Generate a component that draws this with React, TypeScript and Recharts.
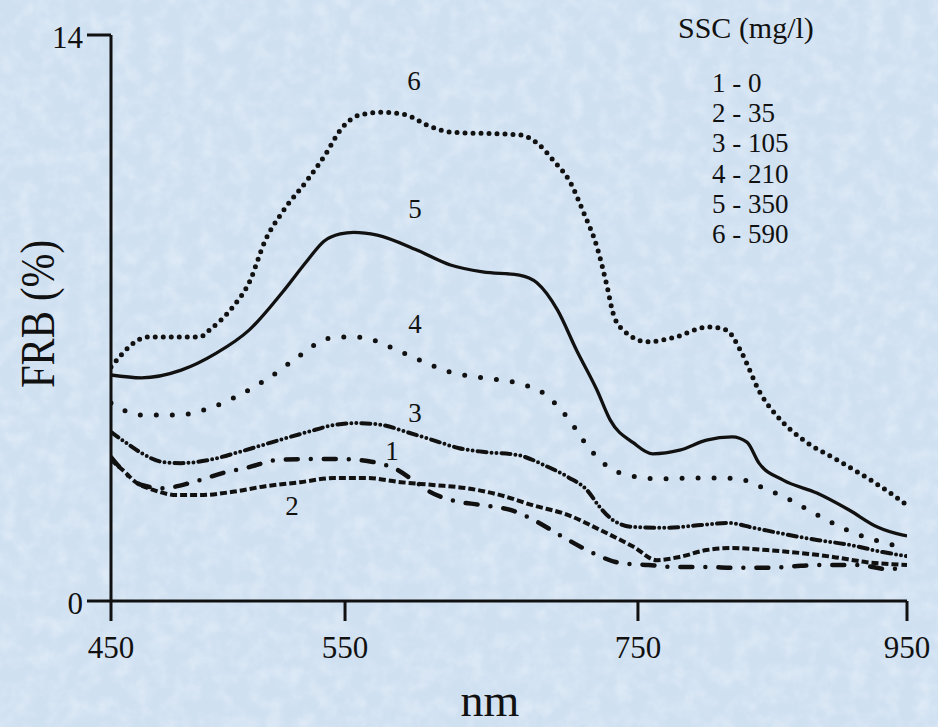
import React from 'react';
import { LineChart, Line, XAxis, YAxis } from 'recharts';

// wavelength (nm) / FRB (%) pairs, one list per SSC curve
const curve1 = [
  [450, 3.56], [456, 3.17], [463, 2.87], [472, 2.79], [485, 2.94], [498, 3.17], [509, 3.31],
  [521, 3.49], [535, 3.51], [549, 3.51], [569, 3.44], [585, 3.26], [599, 2.92], [608, 2.7],
  [622, 2.5], [644, 2.37], [665, 2.23], [680, 1.98], [699, 1.58], [718, 1.21], [738, 0.94],
  [758, 0.89], [778, 0.84], [801, 0.84], [823, 0.82], [847, 0.82], [871, 0.87], [890, 0.89],
  [913, 0.89], [936, 0.79], [950, 0.84],
];
const curve2 = [
  [450, 3.49], [455, 3.24], [461, 2.92], [468, 2.75], [478, 2.62], [488, 2.62], [502, 2.7],
  [516, 2.84], [531, 2.94], [545, 3.04], [565, 3.04], [588, 2.94], [610, 2.87], [633, 2.79],
  [656, 2.62], [678, 2.37], [702, 2.13], [724, 1.76], [747, 1.34], [764, 1.01], [781, 1.09],
  [801, 1.26], [820, 1.31], [846, 1.26], [870, 1.19], [895, 1.09], [920, 0.96], [950, 0.89],
];
const curve3 = [
  [450, 4.18], [456, 3.93], [463, 3.66], [472, 3.44], [480, 3.41], [492, 3.49], [505, 3.69],
  [519, 3.93], [534, 4.18], [545, 4.35], [558, 4.4], [576, 4.35], [592, 4.18], [610, 3.98],
  [628, 3.78], [644, 3.69], [668, 3.61], [686, 3.36], [702, 3.07], [715, 2.75], [724, 2.32],
  [733, 2.0], [747, 1.83], [772, 1.81], [797, 1.88], [817, 1.93], [836, 1.81], [858, 1.66],
  [883, 1.51], [907, 1.39], [932, 1.21], [950, 1.11],
];
const curve4 = [
  [450, 4.9], [463, 4.6], [478, 4.6], [492, 4.77], [505, 5.1], [518, 5.54], [530, 6.04],
  [541, 6.46], [548, 6.53], [558, 6.53], [569, 6.46], [581, 6.28], [601, 5.96], [622, 5.66],
  [644, 5.52], [668, 5.39], [687, 5.1], [702, 4.53], [716, 3.81], [724, 3.49], [733, 3.24],
  [743, 3.12], [755, 3.04], [768, 3.02], [792, 3.04], [816, 3.04], [829, 2.99], [840, 2.84],
  [863, 2.5], [885, 2.1], [907, 1.73], [931, 1.46], [950, 1.31],
];
const curve5 = [
  [450, 5.59], [463, 5.52], [480, 5.71], [495, 6.13], [509, 6.7], [523, 7.62], [534, 8.43],
  [541, 8.9], [548, 9.08], [556, 9.12], [572, 9.05], [599, 8.68], [622, 8.31], [644, 8.14],
  [669, 8.06], [681, 7.87], [695, 7.2], [708, 6.21], [722, 5.22], [731, 4.48], [747, 3.91],
  [761, 3.64], [781, 3.73], [801, 3.98], [820, 4.06], [831, 3.93], [840, 3.41], [858, 2.99],
  [883, 2.67], [907, 2.25], [928, 1.83], [947, 1.63], [950, 1.61],
];
const curve6 = [
  [450, 5.79], [466, 6.53], [488, 6.53], [492, 6.7], [502, 7.27], [509, 7.87], [516, 8.93],
  [523, 9.6], [534, 10.42], [542, 11.08], [548, 11.65], [560, 12.02], [576, 12.09], [592, 12.02],
  [606, 11.77], [622, 11.6], [669, 11.53], [681, 11.33], [692, 10.91], [704, 10.34], [713, 9.6],
  [722, 8.76], [729, 7.77], [733, 7.12], [740, 6.7], [757, 6.41], [776, 6.51], [803, 6.78],
  [816, 6.7], [826, 6.21], [841, 5.14], [856, 4.48], [873, 3.98], [898, 3.49], [923, 2.99],
  [948, 2.42], [950, 2.37],
];

const xTicks = [450, 550, 750, 950];
const yTicks = [0, 14];
const legendTitle = 'SSC (mg/l)';
const legendItems = ['1 - 0', '2 - 35', '3 - 105', '4 - 210', '5 - 350', '6 - 590'];

// the printed wavelength axis is not evenly spaced: share of the axis length at each tick
const xTickShare = [0, 0.294, 0.662, 1];

function warpedScale(dom: number[] = [450, 950], rng: number[] = [0, 1]): any {
  const s: any = (v: number) => {
    let i = 0;
    while (i < xTicks.length - 2 && v > xTicks[i + 1]) i++;
    const t = (v - xTicks[i]) / (xTicks[i + 1] - xTicks[i]);
    const share = xTickShare[i] + t * (xTickShare[i + 1] - xTickShare[i]);
    return rng[0] + share * (rng[1] - rng[0]);
  };
  s.domain = (d?: number[]) => {
    if (d === undefined) return dom;
    dom = d;
    return s;
  };
  s.range = (r?: number[]) => {
    if (r === undefined) return rng;
    rng = r;
    return s;
  };
  s.copy = () => warpedScale(dom.slice(), rng.slice());
  s.ticks = () => xTicks;
  s.invert = (px: number) => {
    const share = (px - rng[0]) / (rng[1] - rng[0]);
    let i = 0;
    while (i < xTickShare.length - 2 && share > xTickShare[i + 1]) i++;
    const t = (share - xTickShare[i]) / (xTickShare[i + 1] - xTickShare[i]);
    return xTicks[i] + t * (xTicks[i + 1] - xTicks[i]);
  };
  return s;
}

const toRows = (pts: number[][]) => pts.map(([nm, v]) => ({ nm, v }));

const serif = '"Liberation Serif", "Times New Roman", serif';
const ink = '#111';

const series = [
  { id: 'c1', pts: curve1, width: 4.5, dash: '12 13 0 13', cap: 'round' },
  { id: 'c2', pts: curve2, width: 4, dash: '7 3', cap: 'butt' },
  { id: 'c3', pts: curve3, width: 4, dash: '9 5 0 5 0 5', cap: 'round' },
  { id: 'c4', pts: curve4, width: 5, dash: '0 16', cap: 'round' },
  { id: 'c5', pts: curve5, width: 3.3, dash: undefined, cap: 'butt' },
  { id: 'c6', pts: curve6, width: 5, dash: '0 8', cap: 'round' },
];

const App: React.FC = () => {
  return (
    <div
      style={{
        position: 'absolute',
        left: 0,
        top: 0,
        width: 938,
        height: 727,
        background: '#cfe0f1',
        fontFamily: serif,
        overflow: 'hidden',
      }}
    >
      {/* mottled paper behind the plot */}
      <svg width={938} height={727} style={{ position: 'absolute', left: 0, top: 0 }}>
        <filter id="paper">
          <feTurbulence type="fractalNoise" baseFrequency="0.06" numOctaves={3} seed={4} />
          <feColorMatrix
            type="matrix"
            values="0 0 0 0 0.92  0 0 0 0 0.95  0 0 0 0 0.99  0 0 0 1.6 -0.6"
          />
        </filter>
        <rect width={938} height={727} filter="url(#paper)" opacity={0.45} />
      </svg>

      <div style={{ position: 'absolute', left: 0, top: 0 }}>
        <LineChart width={938} height={727} margin={{ top: 35, right: 31, left: 0, bottom: 66 }}>
          <XAxis
            dataKey="nm"
            type="number"
            domain={[450, 950]}
            scale={warpedScale()}
            ticks={xTicks}
            allowDataOverflow
            height={60}
            tickSize={20}
            tickMargin={15}
            axisLine={{ stroke: ink, strokeWidth: 3 }}
            tickLine={{ stroke: ink, strokeWidth: 3 }}
            tick={{ fill: ink, fontSize: 31, fontFamily: serif }}
          />
          <YAxis
            type="number"
            domain={[0, 14]}
            ticks={yTicks}
            width={111}
            tickSize={24}
            tickMargin={4}
            axisLine={{ stroke: ink, strokeWidth: 3 }}
            tickLine={{ stroke: ink, strokeWidth: 3 }}
            tick={{ fill: ink, fontSize: 31, fontFamily: serif, dy: 2 }}
          />
          {series.map(s => (
            <Line
              key={s.id}
              data={toRows(s.pts)}
              dataKey="v"
              type="monotone"
              stroke={ink}
              strokeWidth={s.width}
              strokeDasharray={s.dash}
              strokeLinecap={s.cap as any}
              dot={false}
              activeDot={false}
              isAnimationActive={false}
            />
          ))}
        </LineChart>
      </div>

      {/* titles, curve numbers and the SSC key */}
      <svg
        width={938}
        height={727}
        style={{ position: 'absolute', left: 0, top: 0, pointerEvents: 'none' }}
        fontFamily={serif}
        fill={ink}
      >
        <text
          x={0}
          y={0}
          fontSize={48}
          textAnchor="middle"
          textLength={148}
          lengthAdjust="spacingAndGlyphs"
          transform="translate(54 314) rotate(-90)"
        >
          FRB (%)
        </text>
        <text x={490} y={716} fontSize={46} textAnchor="middle">nm</text>

        <text x={414} y={90} fontSize={27} textAnchor="middle">6</text>
        <text x={415} y={218} fontSize={27} textAnchor="middle">5</text>
        <text x={415} y={333} fontSize={27} textAnchor="middle">4</text>
        <text x={415} y={422} fontSize={27} textAnchor="middle">3</text>
        <text x={392} y={460} fontSize={27} textAnchor="middle">1</text>
        <text x={292} y={515} fontSize={27} textAnchor="middle">2</text>

        <text x={678} y={38} fontSize={30}>{legendTitle}</text>
        {legendItems.map((item, i) => (
          <text key={item} x={712} y={92 + i * 30.2} fontSize={27}>
            {item}
          </text>
        ))}
      </svg>
    </div>
  );
};

export default App;
